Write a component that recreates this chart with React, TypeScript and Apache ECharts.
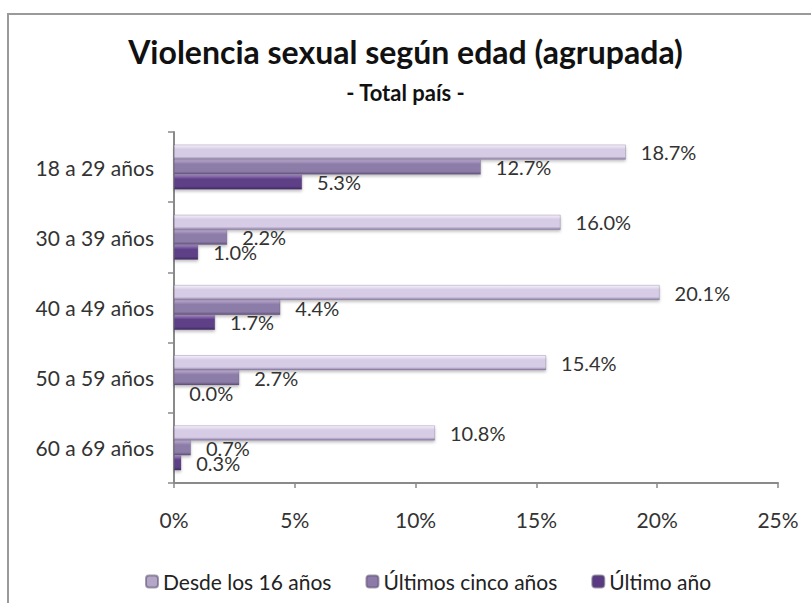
import React, { useEffect, useRef } from "react";
import * as echarts from "echarts";

const categories = ["18 a 29 años", "30 a 39 años", "40 a 49 años", "50 a 59 años", "60 a 69 años"];
const seriesNames = ["Desde los 16 años", "Últimos cinco años", "Último año"];
const desde16 = [18.7, 16.0, 20.1, 15.4, 10.8];
const ultimos5 = [12.7, 2.2, 4.4, 2.7, 0.7];
const ultimoAnio = [5.3, 1.0, 1.7, 0.0, 0.3];
const xTicks = { min: 0, max: 25, interval: 5 };

const FONT = "Lato, 'Open Sans', sans-serif";

function grad(top: string, mid: string, bottom: string) {
  return new echarts.graphic.LinearGradient(0, 0, 0, 1, [
    { offset: 0, color: top },
    { offset: 0.3, color: mid },
    { offset: 0.8, color: mid },
    { offset: 1, color: bottom },
  ]);
}

export default function App() {
  const ref = useRef<HTMLDivElement>(null);
  useEffect(() => {
    document.body.style.margin = "0";
    if (!ref.current) return;
    const chart = echarts.init(ref.current, null, { renderer: "svg" });
    const label = {
      show: true,
      position: "right",
      distance: 15,
      formatter: (p: any) => Number(p.value).toFixed(1) + "%",
      fontFamily: FONT,
      fontSize: 20,
      color: "#333",
    };
    const colors = [
      grad("#f6f0fd", "#d6cce6", "#8d7ea6"),
      grad("#b8a9cc", "#8c7ba8", "#5f5078"),
      grad("#a084c4", "#5d3f86", "#3d2860"),
    ];
    const legendColors = ["#b3a6c6", "#8c7aa9", "#5a3a82"];
    const data = [desde16, ultimos5, ultimoAnio];
    chart.setOption({
      animation: false,
      title: [
        {
          text: "Violencia sexual según edad (agrupada)",
          left: "center",
          top: 35,
          padding: [0, 0, 0, 25],
          textStyle: { fontFamily: FONT, fontSize: 32, fontWeight: "bold", color: "#111" },
        },
        {
          text: "- Total país -",
          left: "center",
          top: 81,
          padding: [0, 0, 0, 23],
          textStyle: { fontFamily: FONT, fontSize: 22, fontWeight: "bold", color: "#111" },
        },
      ],
      graphic: [
        {
          type: "rect",
          shape: { x: 8, y: 14, width: 900, height: 700 },
          style: { fill: "none", stroke: "#9a9a9a", lineWidth: 2 },
          z: -1,
        },
      ],
      legend: {
        top: 566,
        left: 140,
        itemWidth: 12,
        itemHeight: 12,
        itemGap: 34,
        textStyle: { fontFamily: FONT, fontSize: 21, color: "#222" },
        data: seriesNames.map((n, i) => ({ name: n, itemStyle: { color: legendColors[i] } })),
      },
      grid: { left: 174, right: 33, top: 132, bottom: 120, containLabel: false },
      xAxis: {
        type: "value",
        min: xTicks.min,
        max: xTicks.max,
        interval: xTicks.interval,
        axisLine: { show: true, lineStyle: { color: "#8a8a8a", width: 2 } },
        axisTick: { show: true, length: 5, lineStyle: { color: "#8a8a8a", width: 1.5 } },
        splitLine: { show: false },
        axisLabel: {
          formatter: "{value}%",
          fontFamily: FONT,
          fontSize: 21,
          color: "#333",
          margin: 26,
        },
      },
      yAxis: {
        type: "category",
        data: categories,
        inverse: true,
        axisLine: { show: true, lineStyle: { color: "#8a8a8a", width: 2 } },
        axisTick: { show: true, length: 6, lineStyle: { color: "#8a8a8a", width: 1.5 } },
        axisLabel: { fontFamily: FONT, fontSize: 21, color: "#333", margin: 20 },
      },
      series: seriesNames.map((n, i) => ({
        name: n,
        type: "bar",
        data: data[i],
        barGap: "0%",
        barCategoryGap: "36%",
        itemStyle: {
          color: colors[i],
          borderColor: "rgba(90,75,110,0.55)",
          borderWidth: 0.5,
          shadowColor: "rgba(0,0,0,0.25)",
          shadowBlur: 3,
          shadowOffsetY: 2,
        },
        label,
      })),
    });
    return () => chart.dispose();
  }, []);
  return <div ref={ref} style={{ width: 811, height: 603 }} />;
}
